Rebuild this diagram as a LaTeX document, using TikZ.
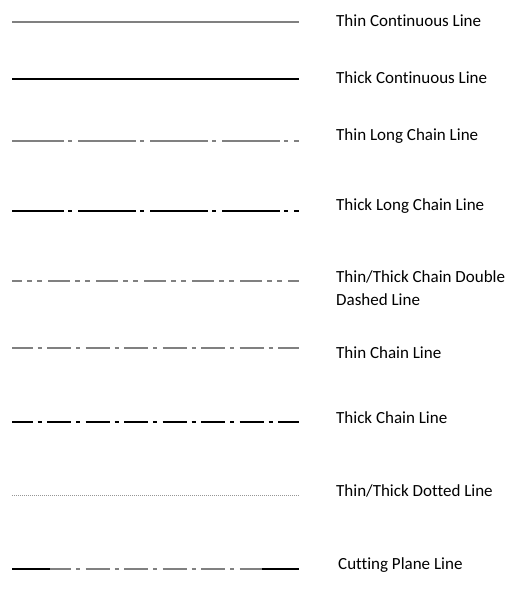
\documentclass[tikz,border=0pt]{standalone}
\usepackage{fontspec}
\setmainfont{Carlito}[Ligatures=NoCommon]
\usetikzlibrary{positioning}

\definecolor{thingray}{RGB}{128,128,128}
\definecolor{dotgray}{RGB}{150,150,150}

\tikzset{
  thinline/.style={draw=thingray, line width=1.1pt},
  thickline/.style={draw=black, line width=2pt},
  longchain/.style={dash pattern=on 58pt off 4pt on 4pt off 6pt, dash phase=6pt},
  doublechain/.style={dash pattern=on 22pt off 5pt on 5pt off 5pt on 5pt off 6pt, dash phase=12pt},
  chain/.style={dash pattern=on 24pt off 5pt on 4pt off 5.5pt, dash phase=3.5pt},
  dotline/.style={draw=dotgray, line width=0.6pt, dash pattern=on 1pt off 1pt},
  lbl/.style={anchor=west, inner sep=0pt, font=\fontsize{17}{23}\selectfont, align=left}
}

\begin{document}
\begin{tikzpicture}[x=1pt, y=-1pt]
      \useasboundingbox (0,0) rectangle (518,599);
      % line end points
      \coordinate (a1) at (12,22);   \coordinate (b1) at (299,22);
      \coordinate (a2) at (12,79);   \coordinate (b2) at (299,79);
      \coordinate (a3) at (12,141);  \coordinate (b3) at (299,141);
      \coordinate (a4) at (12,211);  \coordinate (b4) at (299,211);
      \coordinate (a5) at (12,281);  \coordinate (b5) at (299,281);
      \coordinate (a6) at (12,348);  \coordinate (b6) at (299,348);
      \coordinate (a7) at (12,422);  \coordinate (b7) at (299,422);
      \coordinate (a8) at (12,495);  \coordinate (b8) at (299,495);
      \coordinate (a9) at (12,569);  \coordinate (b9) at (299,569);
      \coordinate (c9) at (50,569);  \coordinate (d9) at (262,569);
      % the lines
      \draw[thinline] (a1) -- (b1);
      \draw[thickline] (a2) -- (b2);
      \draw[thinline, longchain] (a3) -- (b3);
      \draw[thickline, line width=1.6pt, longchain] (a4) -- (b4);
      \draw[thinline, doublechain] (a5) -- (b5);
      \draw[thinline, chain] (a6) -- (b6);
      \draw[thickline, chain] (a7) -- (b7);
      \draw[dotline] (a8) -- (b8);
      \draw[thickline] (a9) -- (c9);
      \draw[thinline, chain, dash phase=3pt] (c9) -- (d9);
      \draw[thickline] (d9) -- (b9);
      % the labels
      \node[lbl] (t1) at (336,20.5) {Thin Continuous Line};
      \node[lbl] (t2) at (336,77.5) {Thick Continuous Line};
      \node[lbl] (t3) at (336,136) {Thin Long Chain Line};
      \node[lbl] (t4) at (336,206) {Thick Long Chain Line};
      \node[lbl] (t5) at (336,288) {Thin/Thick Chain Double\\Dashed Line};
      \node[lbl] (t6) at (336,352.5) {Thin Chain Line};
      \node[lbl] (t7) at (336,417.5) {Thick Chain Line};
      \node[lbl] (t8) at (336,490.5) {Thin/Thick Dotted Line};
      \node[lbl] (t9) at (338,565) {Cutting Plane Line};
\end{tikzpicture}
\end{document}
